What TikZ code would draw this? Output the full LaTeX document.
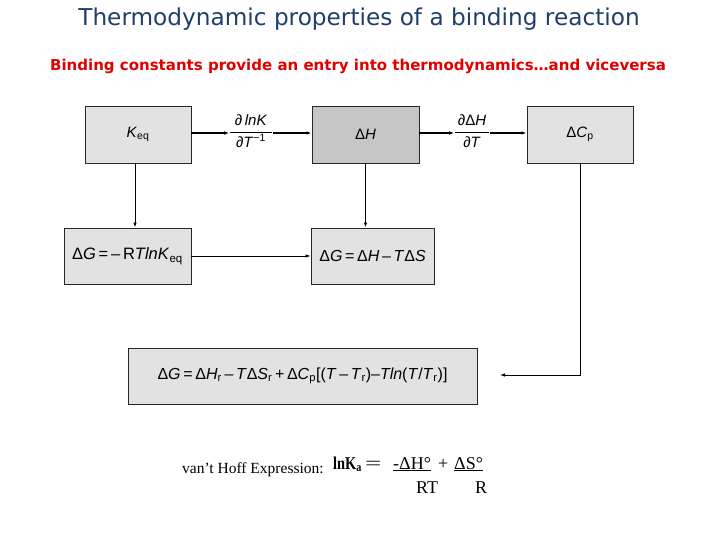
\documentclass[tikz,border=0pt]{standalone}
\usepackage{fontspec}
\setmainfont{Liberation Sans}
\newfontfamily\serifroman{Liberation Serif}
\newfontfamily\titlefont{DejaVu Sans}
\usetikzlibrary{arrows.meta}
\definecolor{titleblue}{HTML}{1F3F6A}
\definecolor{subred}{HTML}{E00000}
\definecolor{lightbox}{HTML}{E2E2E2}
\definecolor{darkbox}{HTML}{C6C6C6}
\tikzset{
  lbox/.style={draw=black!85, line width=0.9pt, fill=lightbox, inner sep=2pt, font=\fontsize{15}{17}\selectfont},
  dbox/.style={lbox, fill=darkbox},
  frac/.style={inner sep=0.5pt, font=\fontsize{15}{17}\selectfont},
  thick arrow/.style={line width=1.4pt, -{Latex[length=5pt,width=3.5pt]}},
  thin arrow/.style={line width=0.8pt, -{Latex[length=5pt,width=3.5pt]}},
  vh/.style={font=\serifroman\fontsize{18}{20}\selectfont, anchor=base west, inner sep=0},
}
\begin{document}
\begin{tikzpicture}[x=1pt,y=-1pt]
\useasboundingbox (0,0) rectangle (720,540);
% titles
\node[font=\titlefont\fontsize{23.2}{27}\selectfont, text=titleblue] (title) at (359,19) {Thermodynamic properties of a binding reaction};
\node[font=\titlefont\bfseries\fontsize{15}{18}\selectfont, text=subred] (sub) at (358,66) {Binding constants provide an entry into thermodynamics…and viceversa};
% boxes
\node[lbox, minimum width=106, minimum height=57] (keq) at (138,134.5) {\textit{K}\textsubscript{eq}};
\node[dbox, minimum width=107, minimum height=57] (dh) at (365.5,134.5) {Δ\textit{H}};
\node[lbox, minimum width=106, minimum height=57] (dcp) at (580,134.5) {Δ\textit{C}\textsubscript{p}};
\node[lbox, minimum width=127, minimum height=56, font=\fontsize{16.5}{18}\selectfont] (g1) at (127.5,256) {Δ\textit{G}\,=\,–\,R\textit{TlnK}\textsubscript{eq}};
\node[lbox, minimum width=123, minimum height=56, font=\fontsize{16}{18}\selectfont] (g2) at (372.5,256) {Δ\textit{G}\,=\,Δ\textit{H}\,–\,\textit{T}Δ\textit{S}};
\node[lbox, minimum width=349, minimum height=56, font=\fontsize{16}{18}\selectfont] (big) at (302.5,376) {Δ\textit{G}\,=\,Δ\textit{H}\textsubscript{r}\,–\,\textit{T}Δ\textit{S}\textsubscript{r}\,+\,Δ\textit{C}\textsubscript{p}[(\textit{T}\,–\,\textit{T}\textsubscript{r})–\textit{Tln}(\textit{T}/\textit{T}\textsubscript{r})]};
% fraction labels
\node[frac] (f1) at (251,133) {\begin{tabular}{@{\hspace{5pt}}c@{\hspace{5pt}}}\textit{∂\,lnK}\\[1pt]\hline\rule{0pt}{15pt}\textit{∂T}\textsuperscript{−1}\end{tabular}};
\node[frac] (f2) at (472,133) {\begin{tabular}{@{\hspace{3pt}}c@{\hspace{3pt}}}\textit{∂}Δ\textit{H}\\[1pt]\hline\rule{0pt}{15pt}\textit{∂T}\end{tabular}};
% connectors
\draw[thick arrow] (keq.east |- f1) -- (f1);
\draw[thick arrow] (f1) -- (dh.west |- f1);
\draw[thick arrow] (dh.east |- f2) -- (f2);
\draw[thick arrow] (f2) -- (dcp.west |- f2);
\draw[thin arrow, line width=1pt] (keq.south -| 135,0) -- (135,0 |- g1.north);
\draw[thin arrow, line width=1pt] (dh.south) -- (dh.south |- g2.north);
\draw[thin arrow] (g1.east) -- (g2.west);
\coordinate (cend) at (500,375);
\draw[thin arrow] (dcp.south) |- (cend);
% van't Hoff expression
\node[vh, font=\serifroman\fontsize{15.5}{17}\selectfont] (vhtext) at (182,473) {van’t Hoff Expression:};
\node[vh, font=\serifroman\bfseries\fontsize{18}{20}\selectfont] (lnk) at (333,469) {\scalebox{0.8}[1]{lnK\textsubscript{a}}};
\node[vh] (eq) at (365,469) {\scalebox{1.6}[1]{=}};
\node[vh] (num1) at (393,469) {\underline{-ΔH°}};
\node[vh] (plus) at (438,469) {+};
\node[vh] (num2) at (454,469) {\underline{ΔS°}};
\node[vh] (den1) at (416,493) {RT};
\node[vh] (den2) at (475,493) {R};
\end{tikzpicture}
\end{document}
